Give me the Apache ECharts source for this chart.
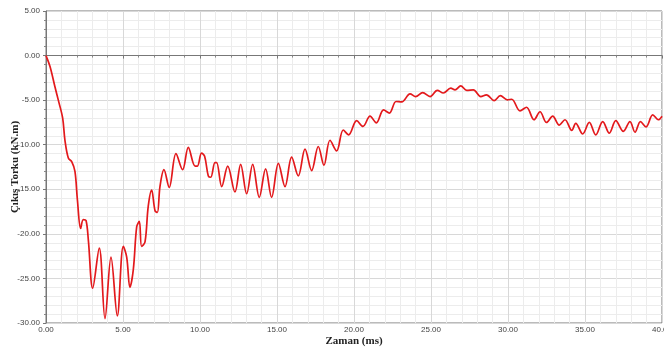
<!DOCTYPE html>
<html>
<head>
<meta charset="utf-8">
<script src="https://cdn.jsdelivr.net/npm/echarts@6/dist/echarts.min.js"></script>
<style>html,body{margin:0;padding:0;background:#fff}#c{width:664px;height:352px}</style>
</head>
<body>
<div id="c"></div>
<script>
// time in ms
var timeMs = [0, 0.26, 0.58, 0.8, 1.08, 1.23, 1.45, 1.67, 1.88, 2.04, 2.25, 2.42, 2.6, 2.75, 3.03, 3.46, 3.83, 4.22, 4.63, 5.02, 5.24, 5.45, 5.67, 5.89, 6.06, 6.21, 6.43, 6.64, 6.86, 7.08, 7.23, 7.4, 7.66, 8.0, 8.44, 8.87, 9.24, 9.68, 9.83, 10.1, 10.3, 10.54, 10.7, 10.97, 11.08, 11.41, 11.8, 12.27, 12.64, 13.03, 13.42, 13.85, 14.26, 14.65, 15.09, 15.52, 15.95, 16.38, 16.82, 17.25, 17.68, 18.05, 18.44, 18.87, 19.3, 19.65, 20.17, 20.58, 21.04, 21.45, 21.92, 22.3, 22.73, 23.1, 23.64, 24.0, 24.46, 24.94, 25.41, 25.8, 26.28, 26.56, 26.93, 27.32, 27.75, 28.23, 28.6, 29.1, 29.5, 29.96, 30.24, 30.78, 31.2, 31.69, 32.08, 32.5, 32.9, 33.33, 33.7, 34.14, 34.4, 34.85, 35.28, 35.7, 36.15, 36.58, 37.0, 37.49, 37.92, 38.25, 38.6, 38.96, 39.4, 39.76, 40.0];
// output torque kN.m
var torque = [0, -1.23, -3.5, -5.0, -7.0, -9.5, -11.5, -11.9, -13.0, -16.2, -19.4, -18.4, -18.5, -20.7, -26.1, -21.6, -29.5, -22.6, -29.2, -21.4, -22.6, -26.0, -24.0, -19.2, -18.6, -21.4, -20.9, -16.9, -15.1, -17.4, -17.6, -14.7, -12.8, -14.8, -11.0, -12.8, -10.3, -12.4, -12.4, -10.95, -11.3, -13.5, -13.65, -12.0, -12.0, -14.7, -12.4, -15.3, -12.2, -15.5, -12.2, -15.9, -12.7, -15.9, -12.1, -14.7, -11.4, -13.5, -10.5, -12.9, -10.2, -12.3, -9.5, -10.7, -8.35, -8.9, -7.3, -7.95, -6.8, -7.55, -6.1, -6.45, -5.15, -5.2, -4.3, -4.6, -4.15, -4.6, -3.9, -4.2, -3.66, -3.85, -3.4, -3.9, -3.85, -4.6, -4.4, -5.05, -4.5, -4.97, -4.9, -6.2, -5.8, -7.2, -6.3, -7.5, -6.8, -7.8, -7.2, -8.4, -7.6, -8.8, -7.5, -8.9, -7.4, -8.7, -7.3, -8.5, -7.4, -8.6, -7.4, -8.0, -6.65, -7.2, -6.8];
var xTicks = [0, 5, 10, 15, 20, 25, 30, 35, 40];
var yTicks = [5, 0, -5, -10, -15, -20, -25, -30];

var data = timeMs.map(function (t, i) { return [t, torque[i]]; });
var chart = echarts.init(document.getElementById('c'), null, {renderer: 'canvas'});
var labelStyle = {color: '#444', fontSize: 8, fontFamily: 'Liberation Sans, Arial, sans-serif'};
chart.setOption({
  animation: false,
  backgroundColor: '#fff',
  grid: {left: 46, right: 2, top: 11, bottom: 29, show: true, borderColor: '#777', borderWidth: 1, containLabel: false, outerBoundsMode: 'none'},
  xAxis: {
    type: 'value', min: xTicks[0], max: xTicks[xTicks.length - 1], interval: 5,
    name: 'Zaman (ms)', nameLocation: 'middle', nameGap: 13, nameMoveOverlap: false,
    nameTextStyle: {fontFamily: 'Liberation Serif, Times New Roman, serif', fontWeight: 'bold', fontSize: 11, color: '#222'},
    axisLine: {lineStyle: {color: '#777'}},
    axisTick: {show: true, length: 3, lineStyle: {color: '#777'}},
    minorTick: {show: true, splitNumber: 5, length: 2, lineStyle: {color: '#888'}},
    splitLine: {show: true, lineStyle: {color: '#d8d8d8', width: 1}},
    minorSplitLine: {show: true, lineStyle: {color: '#ececec', width: 1}},
    axisLabel: Object.assign({margin: 3, formatter: function (v) { return v.toFixed(2); }}, labelStyle)
  },
  yAxis: {
    type: 'value', min: yTicks[yTicks.length - 1], max: yTicks[0], interval: 5,
    name: 'Çıkış Torku (kN.m)', nameLocation: 'middle', nameGap: 25, nameMoveOverlap: false,
    nameTextStyle: {fontFamily: 'Liberation Serif, Times New Roman, serif', fontWeight: 'bold', fontSize: 11, color: '#222'},
    axisLine: {show: true, lineStyle: {color: '#777'}},
    axisTick: {show: true, length: 3, lineStyle: {color: '#777'}},
    minorTick: {show: true, splitNumber: 5, length: 2, lineStyle: {color: '#888'}},
    splitLine: {show: true, lineStyle: {color: '#d8d8d8', width: 1}},
    minorSplitLine: {show: true, lineStyle: {color: '#ececec', width: 1}},
    axisLabel: Object.assign({margin: 6, formatter: function (v) { return v.toFixed(2); }}, labelStyle)
  },
  series: [{
    type: 'line', data: data, smooth: 0.35, showSymbol: false,
    lineStyle: {color: '#e3191c', width: 1.7}
  }]
});
</script>
</body>
</html>
